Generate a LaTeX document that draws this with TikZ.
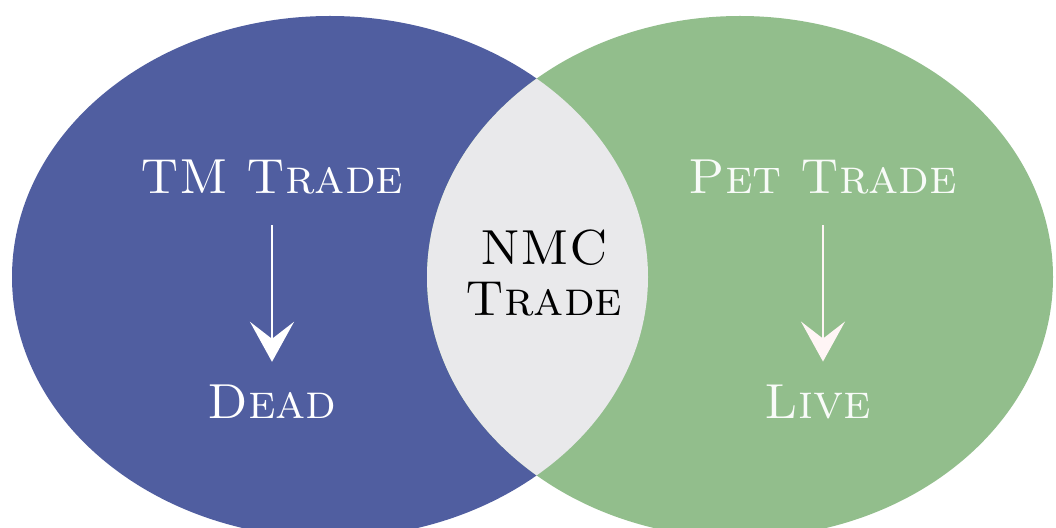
\documentclass[tikz,border=0pt]{standalone}
\usepackage{tikz}
\usetikzlibrary{arrows.meta}

\definecolor{tmblue}{RGB}{80,94,160}
\definecolor{petgreen}{RGB}{146,190,140}
\definecolor{nmcgray}{RGB}{233,233,235}

\tikzset{
    label/.style={inner sep=0pt,font=\fontsize{28}{33}\selectfont\scshape},
    flow/.style={line width=1.5pt,-{Stealth[length=8mm,width=8.8mm,inset=3.4mm]},shorten <=0.62cm,shorten >=0.46cm}
}

\begin{document}
\begin{tikzpicture}
                \clip (0,0) rectangle (21.12,10.56);
                \fill[white] (0,0) rectangle (21.12,10.56);

                \fill[tmblue] (6.6,5.02) ellipse [x radius=6.36,y radius=5.22];
                \fill[petgreen] (14.8,5.02) ellipse [x radius=6.26,y radius=5.22];
                \begin{scope}
                    \clip (6.6,5.02) ellipse [x radius=6.36,y radius=5.22];
                    \fill[nmcgray] (14.8,5.02) ellipse [x radius=6.26,y radius=5.22];
                \end{scope}

                \node[label,text=white] (tm) at (5.44,7.02) {TM Trade};
                \node[label,text=white] (dead) at (5.44,2.52) {Dead};
                \draw[flow,white] (tm) -- (dead);

                \node[label,text=white!94!petgreen] (pet) at (16.46,7.02) {Pet Trade};
                \node[label,text=white!94!petgreen] (live) at (16.36,2.52) {Live};
                \draw[flow,white!96!red] (pet) -- (pet |- live.north);

                \node[label,align=center,text=black] (nmc) at (10.88,5.1) {NMC\\[-0.12cm]Trade};
\end{tikzpicture}
\end{document}
